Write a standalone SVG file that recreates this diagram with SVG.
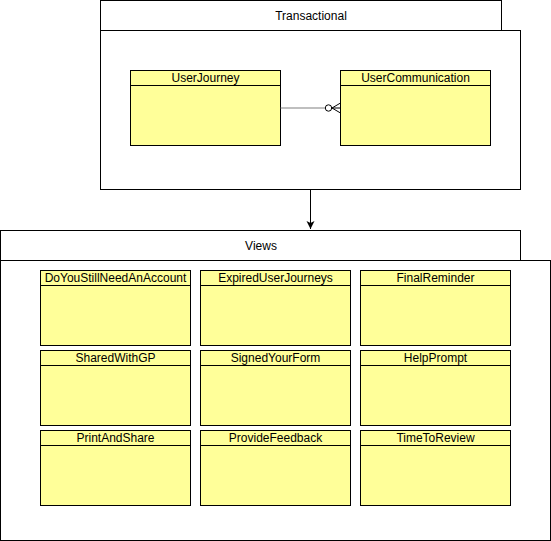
<svg xmlns="http://www.w3.org/2000/svg" width="551" height="541" viewBox="0 0 551 541">
<defs>
<style>
.frame{fill:#ffffff;stroke:#000000;stroke-width:1}
.tbl{fill:#ffff99;stroke:#000000;stroke-width:1}
text{font-family:"Liberation Sans",Arial,Helvetica,sans-serif;font-size:12px;fill:#000000;text-anchor:middle}
</style>
<marker id="arr" markerWidth="10" markerHeight="10" refX="8" refY="4" orient="auto" markerUnits="userSpaceOnUse">
<path d="M0,0 L8,4 L0,8 L2,4 Z" fill="#000"/>
</marker>
</defs>
<rect width="551" height="541" fill="#ffffff"/>
<g id="transactional">
<rect class="frame" x="100.5" y="0.5" width="401" height="30"/>
<text x="311" y="20">Transactional</text>
<rect class="frame" x="100.5" y="30.5" width="420" height="159"/>
</g>
<g id="views">
<rect class="frame" x="0.5" y="230.5" width="520" height="30"/>
<text x="261" y="250">Views</text>
<rect class="frame" x="0.5" y="260.5" width="550" height="280"/>
</g>
<g id="UserJourney">
<rect class="tbl" x="130.5" y="70.5" width="150" height="75"/>
<line x1="130.5" y1="85.5" x2="280.5" y2="85.5" stroke="#000"/>
<text x="205.5" y="82">UserJourney</text>
</g>
<g id="UserCommunication">
<rect class="tbl" x="340.5" y="70.5" width="150" height="75"/>
<line x1="340.5" y1="85.5" x2="490.5" y2="85.5" stroke="#000"/>
<text x="415.5" y="82">UserCommunication</text>
</g>
<g id="DoYouStillNeedAnAccount">
<rect class="tbl" x="40.5" y="270.5" width="150" height="75"/>
<line x1="40.5" y1="285.5" x2="190.5" y2="285.5" stroke="#000"/>
<text x="115.5" y="282">DoYouStillNeedAnAccount</text>
</g>
<g id="ExpiredUserJourneys">
<rect class="tbl" x="200.5" y="270.5" width="150" height="75"/>
<line x1="200.5" y1="285.5" x2="350.5" y2="285.5" stroke="#000"/>
<text x="275.5" y="282">ExpiredUserJourneys</text>
</g>
<g id="FinalReminder">
<rect class="tbl" x="360.5" y="270.5" width="150" height="75"/>
<line x1="360.5" y1="285.5" x2="510.5" y2="285.5" stroke="#000"/>
<text x="435.5" y="282">FinalReminder</text>
</g>
<g id="SharedWithGP">
<rect class="tbl" x="40.5" y="350.5" width="150" height="75"/>
<line x1="40.5" y1="365.5" x2="190.5" y2="365.5" stroke="#000"/>
<text x="115.5" y="362">SharedWithGP</text>
</g>
<g id="SignedYourForm">
<rect class="tbl" x="200.5" y="350.5" width="150" height="75"/>
<line x1="200.5" y1="365.5" x2="350.5" y2="365.5" stroke="#000"/>
<text x="275.5" y="362">SignedYourForm</text>
</g>
<g id="HelpPrompt">
<rect class="tbl" x="360.5" y="350.5" width="150" height="75"/>
<line x1="360.5" y1="365.5" x2="510.5" y2="365.5" stroke="#000"/>
<text x="435.5" y="362">HelpPrompt</text>
</g>
<g id="PrintAndShare">
<rect class="tbl" x="40.5" y="430.5" width="150" height="75"/>
<line x1="40.5" y1="445.5" x2="190.5" y2="445.5" stroke="#000"/>
<text x="115.5" y="442">PrintAndShare</text>
</g>
<g id="ProvideFeedback">
<rect class="tbl" x="200.5" y="430.5" width="150" height="75"/>
<line x1="200.5" y1="445.5" x2="350.5" y2="445.5" stroke="#000"/>
<text x="275.5" y="442">ProvideFeedback</text>
</g>
<g id="TimeToReview">
<rect class="tbl" x="360.5" y="430.5" width="150" height="75"/>
<line x1="360.5" y1="445.5" x2="510.5" y2="445.5" stroke="#000"/>
<text x="435.5" y="442">TimeToReview</text>
</g>
<g id="connectors">
<line x1="280.5" y1="108" x2="325" y2="108" stroke="#808080" stroke-width="1.2"/>
<circle cx="328.5" cy="108" r="3.2" fill="#ffffff" stroke="#000" stroke-width="1"/>
<path d="M340.5,103 L332,108 L340.5,113 M332,108 L340.5,108" fill="none" stroke="#000" stroke-width="1"/>
<line x1="310.5" y1="190" x2="310.5" y2="229" stroke="#000" stroke-width="1" marker-end="url(#arr)"/>
</g>
</svg>
